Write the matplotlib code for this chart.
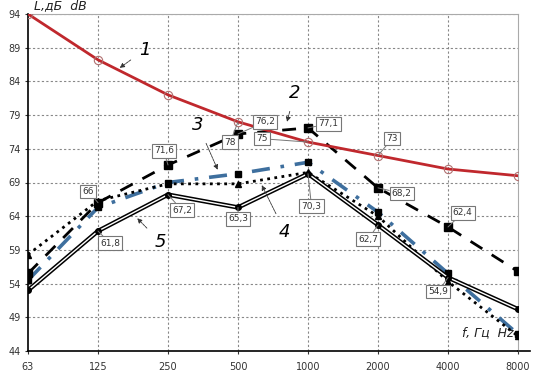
import matplotlib
matplotlib.use("Agg")
import matplotlib.pyplot as plt
from matplotlib.lines import Line2D

# ---- data ----
freqs = ["63", "125", "250", "500", "1000", "2000", "4000", "8000"]
curve1 = [94.0, 87.2, 82.0, 78.0, 75.0, 73.0, 71.0, 70.0]
curve2 = [55.5, 66.0, 71.6, 76.2, 77.1, 68.2, 62.4, 55.8]
curve3 = [54.5, 65.3, 69.0, 70.3, 72.0, 64.6, 55.5, 46.5]
curve4 = [58.3, 66.3, 68.8, 68.8, 70.5, 64.0, 54.3, 46.2]
curve5 = [53.0, 61.8, 67.2, 65.3, 70.3, 62.7, 54.9, 50.2]
yticks = [44, 49, 54, 59, 64, 69, 74, 79, 84, 89, 94]

x = list(range(len(freqs)))

fig = plt.figure(figsize=(5.36, 3.76), dpi=100)
ax = fig.add_axes([28/536, 25/376, 490/536, 337/376])

grid_kw = dict(color="#888888", lw=0.8, ls=(0, (2, 2)), zorder=0)
for yv in yticks[1:]:
    ax.axhline(yv, **grid_kw)
for xv in x[1:-1]:
    ax.axvline(xv, **grid_kw)

# curve 1 - red
ax.plot(x, curve1, color="#c0282d", lw=2, zorder=5)
ax.plot(x, curve1, ls="none", marker="o", ms=6, mfc="none", mec="#b07070", mew=0.8, zorder=6)
# curve 2 - dashed black, squares
ax.plot(x, curve2, color="black", lw=2, ls=(0, (5, 4)), marker="s", ms=6, zorder=4)
# curve 3 - blue dash-dot
ax.plot(x, curve3, color="#3e6f9e", lw=2.6, ls=(0, (5, 3, 1, 3)), zorder=3)
ax.plot(x, curve3, ls="none", marker="s", ms=4, color="black", zorder=4)
# curve 4 - dotted black
ax.plot(x, curve4, color="black", lw=2, ls=(0, (1, 1.6)), zorder=3)
ax.plot(x, curve4, ls="none", marker="^", ms=4, color="black", zorder=4)
# curve 5 - double line
ax.plot(x, curve5, color="black", lw=3.2, zorder=4)
ax.plot(x, curve5, color="white", lw=1.0, zorder=4)
ax.plot(x, curve5, ls="none", marker="o", ms=4, color="black", zorder=5)

# value labels: (series, index, text x-pos, text y-pos)
lab_layout = [
    (curve2, 1, 0.86, 67.7), (curve2, 2, 1.94, 73.7), (curve5, 2, 2.2, 64.9),
    (curve5, 1, 1.17, 60.0), (curve1, 3, 2.89, 75.0), (curve2, 3, 3.39, 78.0),
    (curve1, 4, 3.34, 75.5), (curve2, 4, 4.29, 77.7), (curve5, 3, 3.0, 63.6),
    (curve5, 4, 4.05, 65.5), (curve1, 5, 5.2, 75.5), (curve2, 5, 5.34, 67.4),
    (curve5, 5, 4.86, 60.6), (curve2, 6, 6.21, 64.5), (curve5, 6, 5.86, 52.8),
]
for ser, i, tx, ty in lab_layout:
    v = ser[i]
    txt = ("%g" % v).replace(".", ",")
    ax.annotate(txt, xy=(i, v), xytext=(tx, ty), fontsize=6.5, color="#333333",
                ha="center", va="center", zorder=8,
                bbox=dict(boxstyle="square,pad=0.25", fc="white", ec="#777777", lw=0.8),
                arrowprops=dict(arrowstyle="-", color="#777777", lw=0.7, shrinkA=0, shrinkB=0))

# curve callouts
callouts = [("1", 1.67, 88.7, 1.31, 86.0), ("2", 3.81, 82.3, 3.7, 78.0),
            ("3", 2.43, 77.5, 2.71, 70.9), ("4", 3.67, 61.7, 3.34, 68.6),
            ("5", 1.89, 60.2, 1.56, 63.7)]
for t, tx, ty, px, py in callouts:
    ax.annotate(t, xy=(px, py), xytext=(tx, ty), fontsize=13, style="italic",
                ha="center", va="center", zorder=8,
                arrowprops=dict(arrowstyle="-|>", color="#333333", lw=0.6,
                                ls=(0, (3, 1)), mutation_scale=7, shrinkA=5, shrinkB=0))

ax.set_xlim(0, 7)
ax.set_ylim(44, 94)
ax.set_xticks(x)
ax.set_xticklabels(freqs)
ax.set_yticks(yticks)
ax.tick_params(labelsize=7, colors="#333333", length=2, width=0.8)
ax.tick_params(axis="x", pad=6)
for s in ("top", "right"):
    ax.spines[s].set_color("#aaaaaa")
    ax.spines[s].set_linewidth(0.8)
for s in ("left", "bottom"):
    ax.spines[s].set_color("black")
    ax.spines[s].set_linewidth(1.2)
# extend x axis beyond the frame
ax.add_line(Line2D([1.0, 1.025], [0, 0], transform=ax.transAxes, color="black",
                   lw=1.2, clip_on=False))

ax.text(0.012, 1.005, "L,дБ  dB", transform=ax.transAxes, fontsize=9, style="italic",
        ha="left", va="bottom", color="#222222")
ax.text(0.885, 0.035, "f, Гц  Hz", transform=ax.transAxes, fontsize=9, style="italic",
        ha="left", va="bottom", color="#222222")

fig.savefig("out.png", dpi=100)
